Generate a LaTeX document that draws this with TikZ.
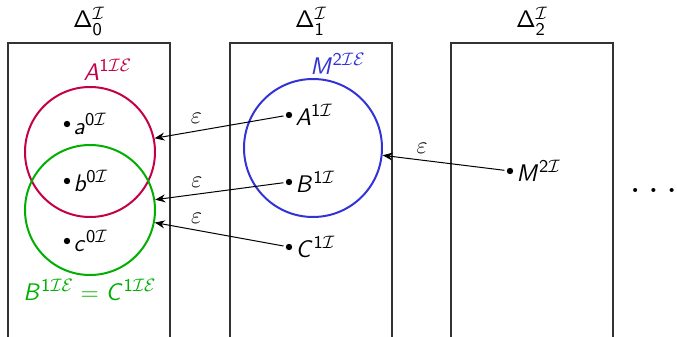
\documentclass[tikz,border=0pt]{standalone}
\usepackage{amsmath, amssymb}
\usepackage{xcolor}
\usepackage{tikz}
\usetikzlibrary{arrows.meta, positioning, calc}

\DeclareMathAlphabet{\mathsfit}{OT1}{cmss}{m}{sl}
\DeclareMathAlphabet{\mathsfup}{OT1}{cmss}{m}{n}
\newcommand{\sv}[1]{\mathsfit{#1}}
\newcommand{\sn}[1]{\mathsfup{#1}}

\definecolor{setred}{RGB}{196,0,72}
\definecolor{setgreen}{RGB}{0,175,0}
\definecolor{setblue}{RGB}{50,50,215}

\begin{document}
\begin{tikzpicture}[
  x=0.5pt, y=-0.5pt,
  every node/.style={font=\fontsize{12.7}{15}\selectfont},
  dombox/.style={draw=black!80, line width=0.6pt},
  setcirc/.style={circle, draw, line width=1pt, minimum size=65pt, inner sep=0pt},
  pt/.style={circle, fill, inner sep=0pt, minimum size=3.2pt},
  arr/.style={-{Stealth[length=5pt,width=4pt]}, line width=0.5pt, shorten <=1pt}
]
  \useasboundingbox (0,0) rectangle (677,337);

  % the three domains, open at the bottom
  \foreach \x/\i in {8/0, 230/1, 451/2} {
    \draw[dombox] (\x,337) -- (\x,43) -- (\x+162,43) -- (\x+162,337);
    \node (lbl\i) at (\x+81,21) {$\sn{\Delta}^{\mathcal I}_{\sn{\i}}$};
  }
  \node[anchor=base, font=\huge] (more) at (657,192) {$\dots$};

  % level 0
  \node[setcirc, setred]   (redset)   at (90,152) {};
  \node[setcirc, setgreen] (greenset) at (90,210) {};
  \node[text=setred]   (redlbl)   at (108,70)  {$\sv{A}^{\sn{1}\mathcal{I}\mathcal{E}}$};
  \node[text=setgreen] (greenlbl) at (90,290)  {$\sv{B}^{\sn{1}\mathcal{I}\mathcal{E}} \mathrel{\sn{=}} \sv{C}^{\sn{1}\mathcal{I}\mathcal{E}}$};

  \node[pt] (a) at (67,124) {};
  \node[pt] (b) at (67,181) {};
  \node[pt] (c) at (67,241) {};
  \node[right=-2pt of a] (alb) {$\sv{a}^{\sn{0}\mathcal I}$};
  \node[right=-2pt of b] (blb) {$\sv{b}^{\sn{0}\mathcal I}$};
  \node[right=-2pt of c] (clb) {$\sv{c}^{\sn{0}\mathcal I}$};

  % level 1
  \node[setcirc, setblue, minimum size=69pt] (blueset) at (313,148) {};
  \node[text=setblue] (bluelbl) at (338,64) {$\sv{M}^{\sn{2}\mathcal{I}\mathcal{E}}$};

  \node[pt] (A) at (289,115) {};
  \node[pt] (B) at (289,182) {};
  \node[pt] (C) at (289,247) {};
  \node[right=-2pt of A] (Alb) {$\sv{A}^{\sn{1}\mathcal I}$};
  \node[right=-2pt of B] (Blb) {$\sv{B}^{\sn{1}\mathcal I}$};
  \node[right=-2pt of C] (Clb) {$\sv{C}^{\sn{1}\mathcal I}$};

  % level 2
  \node[pt] (M) at (510,171) {};
  \node[right=-2pt of M] (Mlb) {$\sv{M}^{\sn{2}\mathcal I}$};

  % epsilon maps
  \draw[arr] (A) -- node[above, pos=0.68] {$\varepsilon$} (redset.12);
  \draw[arr] (B) -- node[above, pos=0.68] {$\varepsilon$} (greenset.9);
  \draw[arr] (C) -- node[above, pos=0.68] {$\varepsilon$} (greenset.-11);
  \draw[arr] (M) -- node[above, pos=0.68] {$\varepsilon$} (blueset.-6);
\end{tikzpicture}
\end{document}
